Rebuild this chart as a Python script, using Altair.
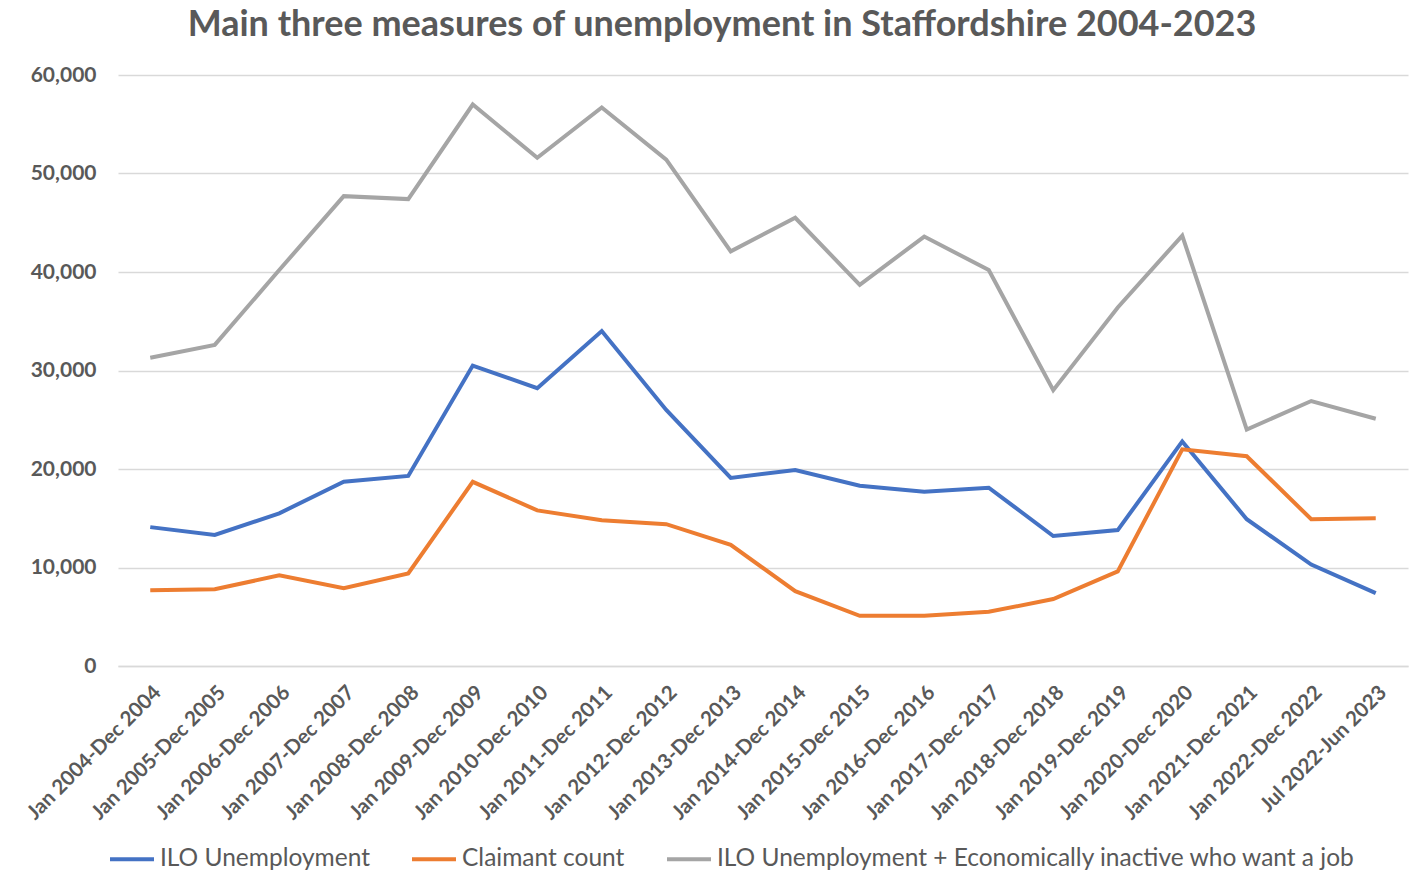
import altair as alt
import pandas as pd

periods = [
    "Jan 2004-Dec 2004", "Jan 2005-Dec 2005", "Jan 2006-Dec 2006", "Jan 2007-Dec 2007",
    "Jan 2008-Dec 2008", "Jan 2009-Dec 2009", "Jan 2010-Dec 2010", "Jan 2011-Dec 2011",
    "Jan 2012-Dec 2012", "Jan 2013-Dec 2013", "Jan 2014-Dec 2014", "Jan 2015-Dec 2015",
    "Jan 2016-Dec 2016", "Jan 2017-Dec 2017", "Jan 2018-Dec 2018", "Jan 2019-Dec 2019",
    "Jan 2020-Dec 2020", "Jan 2021-Dec 2021", "Jan 2022-Dec 2022", "Jul 2022-Jun 2023",
]

ilo = [14100, 13300, 15500, 18700, 19300, 30500, 28200, 34000, 26000, 19100,
       19900, 18300, 17700, 18100, 13200, 13800, 22800, 14900, 10300, 7400]
claimant = [7700, 7800, 9200, 7900, 9400, 18700, 15800, 14800, 14400, 12300,
            7600, 5100, 5100, 5500, 6800, 9600, 22000, 21300, 14900, 15000]
ilo_inactive = [31300, 32600, 40200, 47700, 47400, 57000, 51600, 56700, 51400, 42100,
                45500, 38700, 43600, 40200, 28000, 36400, 43700, 24000, 26900, 25100]

series_names = [
    "ILO Unemployment",
    "Claimant count",
    "ILO Unemployment + Economically inactive who want a job",
]
series_colors = ["#4472C4", "#ED7D31", "#A5A5A5"]

rows = []
for name, vals in zip(series_names, [ilo, claimant, ilo_inactive]):
    for p, v in zip(periods, vals):
        rows.append({"period": p, "value": v, "series": name})
df = pd.DataFrame(rows)

FONT = "Lato"
GREY = "#595959"

chart = (
    alt.Chart(df)
    .mark_line(strokeWidth=4)
    .encode(
        x=alt.X(
            "period:N",
            sort=periods,
            title=None,
            scale=alt.Scale(type="point", padding=0.5),
            axis=alt.Axis(
                labelAngle=-45,
                labelFont=FONT,
                labelFontSize=20.5,
                labelFontWeight="bold",
                labelColor=GREY,
                ticks=False,
                domain=True,
                domainColor="#D9D9D9",
                domainWidth=1.5,
                labelPadding=16,
                grid=False,
            ),
        ),
        y=alt.Y(
            "value:Q",
            title=None,
            scale=alt.Scale(domain=[0, 60000]),
            axis=alt.Axis(
                values=[0, 10000, 20000, 30000, 40000, 50000, 60000],
                format=",.0f",
                labelFont=FONT,
                labelFontSize=21,
                labelFontWeight="bold",
                labelColor=GREY,
                ticks=False,
                domain=False,
                labelPadding=22,
                gridColor="#D9D9D9",
                gridWidth=1.5,
            ),
        ),
        color=alt.Color(
            "series:N",
            sort=series_names,
            scale=alt.Scale(domain=series_names, range=series_colors),
            legend=alt.Legend(
                title=None,
                orient="none",
                direction="horizontal",
                legendX=-10,
                legendY=760,
                symbolType="stroke",
                symbolStrokeWidth=4,
                symbolSize=1936,
                labelFont=FONT,
                labelFontSize=24.5,
                labelColor=GREY,
                labelLimit=900,
                columnPadding=34,
                labelOffset=4,
            ),
        ),
    )
    .properties(
        width=1290,
        height=591,
        padding={"left": 110, "top": 67, "right": 3, "bottom": 208},
        autosize=alt.AutoSizeParams(type="none"),
        background="white",
        title=alt.TitleParams(
            "Main three measures of unemployment in Staffordshire 2004-2023",
            font=FONT,
            fontSize=36,
            fontWeight="bold",
            color=GREY,
            anchor="middle",
            dx=-41,
            offset=20,
        ),
    )
    .configure_view(strokeWidth=0)
)

chart.save("out.html", embed_options={"renderer": "svg", "actions": False})
